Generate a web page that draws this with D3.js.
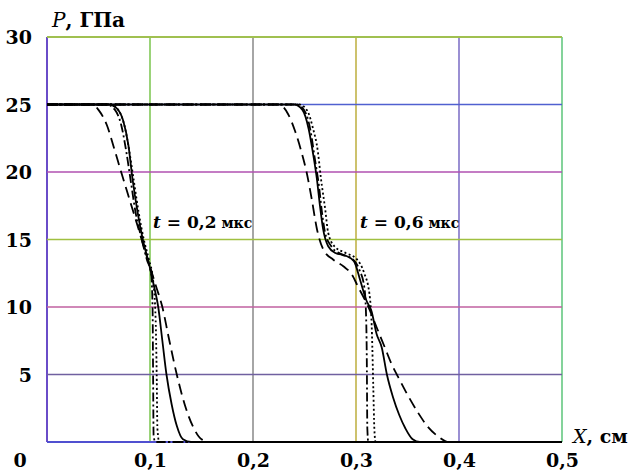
<!DOCTYPE html>
<html>
<head>
<meta charset="utf-8">
<script src="https://cdn.jsdelivr.net/npm/d3@7"></script>
<style>
  body { margin: 0; background: #fff; }
  svg text { font-family: "DejaVu Serif", serif; }
</style>
</head>
<body>
<div id="chart"></div>
<script>
// tick values
var xTicks = [0.1, 0.2, 0.3, 0.4, 0.5];
var yTicks = [5, 10, 15, 20, 25, 30];
var xGridColors = ['#6a4cc8', '#70c040', '#808080', '#b8a830', '#7060c0', '#50c070'];
var yGridColors = ['#5050d0', '#7060a0', '#c060a0', '#a0c040', '#b050b0', '#5060d0', '#a0c050'];

// pressure profiles, t = 0,2 mcs
var solid02 = [[0,25],[0.06,25],[0.068,24.7],[0.074,23.8],[0.079,22],[0.083,19.5],[0.088,17],[0.093,15],[0.099,13.2],[0.104,11.5],[0.108,10],[0.112,7.5],[0.116,5],[0.121,2.8],[0.126,1.2],[0.132,0.2],[0.14,0],[0.5,0]];
var dashed02 = [[0,25],[0.045,25],[0.05,24.6],[0.058,23.5],[0.065,21.8],[0.072,20],[0.08,18],[0.088,16],[0.095,14.2],[0.1,13],[0.106,11.5],[0.112,10],[0.118,7.8],[0.126,5],[0.134,2.7],[0.142,1.1],[0.15,0.2],[0.158,0],[0.5,0]];
var dashdot02 = [[0,25],[0.058,25],[0.066,24.6],[0.072,23.5],[0.077,21.5],[0.081,19.5],[0.086,17],[0.092,15],[0.097,13.5],[0.101,12.5],[0.1025,10],[0.103,5],[0.1035,0.5],[0.105,0],[0.5,0]];
var dotted02 = [[0,25],[0.062,25],[0.07,24.5],[0.075,23.5],[0.08,21.5],[0.084,19.5],[0.089,17],[0.094,15],[0.099,13.5],[0.103,12],[0.1055,9],[0.1065,5],[0.1072,1],[0.109,0],[0.5,0]];

// pressure profiles, t = 0,6 mcs
var solid06 = [[0,25],[0.24,25],[0.248,24.6],[0.254,23.2],[0.258,21.5],[0.262,19.5],[0.265,17.5],[0.268,15.8],[0.273,14.5],[0.28,14],[0.29,13.8],[0.298,13.4],[0.304,12],[0.31,10.5],[0.315,9.7],[0.32,8],[0.325,7],[0.33,5],[0.336,3.3],[0.342,2],[0.348,1],[0.355,0.2],[0.362,0],[0.5,0]];
var dashed06 = [[0,25],[0.225,25],[0.234,24.3],[0.241,23],[0.247,21.5],[0.252,20],[0.257,18],[0.262,15.8],[0.268,14.3],[0.278,13.5],[0.288,13],[0.296,12.4],[0.302,11.5],[0.312,10],[0.32,8.5],[0.328,7],[0.335,5.7],[0.341,4.8],[0.35,3.5],[0.36,2.2],[0.37,1.1],[0.38,0.4],[0.39,0],[0.5,0]];
var dashdot06 = [[0,25],[0.243,25],[0.251,24.4],[0.256,23],[0.26,21],[0.264,19],[0.267,17],[0.27,15.5],[0.276,14.5],[0.286,13.9],[0.296,13.6],[0.303,12.8],[0.308,11.5],[0.3095,10],[0.3105,6],[0.311,1],[0.312,0],[0.5,0]];
var dotted06 = [[0,25],[0.245,25],[0.253,24.5],[0.258,23.3],[0.263,21.5],[0.266,19.5],[0.27,17.3],[0.273,15.5],[0.279,14.5],[0.29,14],[0.3,13.6],[0.308,12.5],[0.313,11],[0.3155,8],[0.3168,4],[0.3178,1],[0.319,0],[0.5,0]];

var series = [
  { data: dashed02, dash: '11,6' },
  { data: dashdot02, dash: '9,3,2,3' },
  { data: dotted02, dash: '2,2.5' },
  { data: solid02, dash: null },
  { data: dashed06, dash: '11,6' },
  { data: dashdot06, dash: '9,3,2,3' },
  { data: dotted06, dash: '2,2.5' },
  { data: solid06, dash: null }
];

var width = 629, height = 472;
var x = d3.scaleLinear().domain([0, 0.5]).range([47, 562]);
var y = d3.scaleLinear().domain([0, 30]).range([442, 37]);
var fmt = function (d) { return String(d).replace('.', ','); };

var svg = d3.select('#chart').append('svg')
    .attr('width', width)
    .attr('height', height);

// grid
var xg = [0].concat(xTicks);
svg.append('g').selectAll('line').data(xg).enter().append('line')
    .attr('x1', function (d) { return x(d); })
    .attr('x2', function (d) { return x(d); })
    .attr('y1', y(0)).attr('y2', y(30))
    .attr('stroke', function (d, i) { return xGridColors[i]; })
    .attr('stroke-width', function (d, i) { return i == 0 ? 2 : 1.4; });

var yg = [0].concat(yTicks);
svg.append('g').selectAll('line').data(yg).enter().append('line')
    .attr('x1', x(0)).attr('x2', x(0.5))
    .attr('y1', function (d) { return y(d); })
    .attr('y2', function (d) { return y(d); })
    .attr('stroke', function (d, i) { return yGridColors[i]; })
    .attr('stroke-width', function (d, i) { return (i == 0 || i == 6) ? 2 : 1.4; });

// curves
var line = d3.line()
    .x(function (d) { return x(d[0]); })
    .y(function (d) { return y(d[1]); })
    .curve(d3.curveMonotoneX);

svg.append('g').selectAll('path').data(series).enter().append('path')
    .attr('d', function (d) { return line(d.data); })
    .attr('fill', 'none')
    .attr('stroke', '#000')
    .attr('stroke-width', 1.8)
    .attr('stroke-dasharray', function (d) { return d.dash; });

// axes (labels only)
var yAxis = svg.append('g')
    .attr('transform', 'translate(' + (x(0) - 12) + ',0)')
    .call(d3.axisLeft(y).tickValues(yTicks).tickSize(0).tickFormat(fmt));
var xAxis = svg.append('g')
    .attr('transform', 'translate(0,' + (y(0) + 22) + ')')
    .call(d3.axisBottom(x).tickValues(xTicks).tickSize(0).tickFormat(fmt));
[yAxis, xAxis].forEach(function (a) {
    a.attr('font-family', null).attr('font-size', 19);
    a.select('.domain').remove();
    a.selectAll('text')
        .attr('font-weight', 'bold')
        .attr('fill', '#000');
});
yAxis.selectAll('text').attr('dy', '0.35em');
xAxis.selectAll('text').attr('dy', 0);

svg.append('text')
    .attr('x', 20).attr('y', 467)
    .attr('text-anchor', 'middle')
    .attr('font-size', 19).attr('font-weight', 'bold')
    .text('0');

// axis titles
var pt = svg.append('text').attr('x', 52).attr('y', 27).attr('font-size', 20);
pt.append('tspan').attr('font-style', 'italic').text('P');
pt.append('tspan').attr('font-weight', 'bold').text(', ГПа');

var xt = svg.append('text').attr('x', 573).attr('y', 443).attr('font-size', 19);
xt.append('tspan').attr('font-style', 'italic').text('X');
xt.append('tspan').attr('font-weight', 'bold').text(', см');

// time labels
[[0.2, 153], [0.6, 360]].forEach(function (t) {
    var lbl = svg.append('text').attr('x', t[1]).attr('y', 228)
        .attr('font-size', 17).attr('font-weight', 'bold');
    lbl.append('tspan').attr('font-style', 'italic').text('t');
    lbl.append('tspan').text(' = ' + fmt(t[0]));
    lbl.append('tspan').attr('font-size', 14).text(' мкс');
});
</script>
</body>
</html>
